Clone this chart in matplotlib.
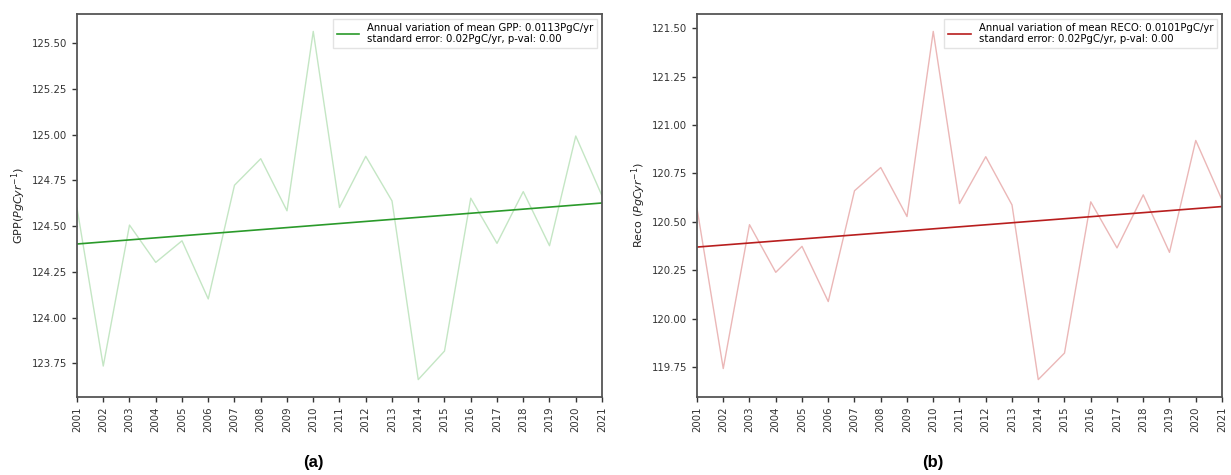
import numpy as np
import matplotlib
matplotlib.use("Agg")
import matplotlib.pyplot as plt

years = list(range(2001, 2022))

# annual global totals (PgC/yr)
gpp = [124.60, 123.735, 124.506, 124.302, 124.42, 124.102, 124.724, 124.869,
       124.584, 125.565, 124.602, 124.882, 124.638, 123.661, 123.817, 124.653,
       124.406, 124.689, 124.393, 124.993, 124.666]
reco = [120.57, 119.742, 120.485, 120.239, 120.373, 120.088, 120.66, 120.78,
        120.527, 121.483, 120.594, 120.836, 120.587, 119.685, 119.822, 120.603,
        120.365, 120.639, 120.342, 120.92, 120.613]

gpp_label = "Annual variation of mean GPP: 0.0113PgC/yr\nstandard error: 0.02PgC/yr, p-val: 0.00"
reco_label = "Annual variation of mean RECO: 0.0101PgC/yr\nstandard error: 0.02PgC/yr, p-val: 0.00"

plt.rcParams["font.family"] = ["DejaVu Sans"]
plt.rcParams["axes.edgecolor"] = "#555555"
plt.rcParams["xtick.color"] = "#333333"
plt.rcParams["ytick.color"] = "#333333"


def trend_panel(ax, values, faint, strong, label, ylabel, tag):
    x = np.array(years)
    y = np.array(values)
    slope, icpt = np.polyfit(x, y, 1)
    ax.plot(x, y, color=faint, lw=1.0)
    ax.plot(x, slope * x + icpt, color=strong, lw=1.2, label=label)
    ax.set_xlim(years[0], years[-1])
    ax.set_xticks(years)
    ax.set_xticklabels([str(v) for v in years], rotation=90)
    ax.yaxis.set_major_formatter(matplotlib.ticker.FormatStrFormatter("%.2f"))
    ax.tick_params(labelsize=7.3, length=3.5, width=1.0)
    ax.set_ylabel(ylabel, fontsize=8, color="#222222", labelpad=3)
    for s in ax.spines.values():
        s.set_linewidth(1.3)
    leg = ax.legend(loc="upper right", fontsize=7.3, handlelength=2.2,
                    fancybox=False, framealpha=0.8, borderaxespad=0.45)
    leg.get_frame().set_edgecolor("#dddddd")
    ax.text(0.45, -0.17, tag, transform=ax.transAxes, ha="center", va="center",
            fontsize=12, fontweight="bold", family=["Liberation Sans", "DejaVu Sans"])


fig = plt.figure(figsize=(12.31, 4.75), dpi=100)
ax1 = fig.add_axes([77 / 1231, 1 - 397 / 475, 525 / 1231, 383 / 475])
ax2 = fig.add_axes([697 / 1231, 1 - 397 / 475, 525 / 1231, 383 / 475])

trend_panel(ax1, gpp, "#c4e6c4", "#2a9a2a", gpp_label,
            "GPP($PgC yr^{-1}$)", "(a)")
trend_panel(ax2, reco, "#ebb7b7", "#b81e1e", reco_label,
            "Reco ($PgC yr^{-1}$)", "(b)")

fig.savefig("out.png", dpi=100)
